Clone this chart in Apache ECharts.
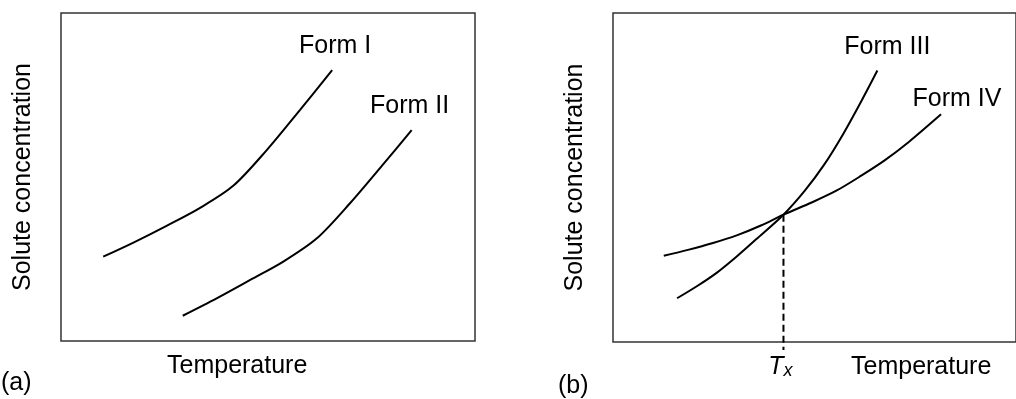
<!DOCTYPE html>
<html>
<head>
<meta charset="utf-8">
<script src="https://cdn.jsdelivr.net/npm/echarts@6/dist/echarts.min.js"></script>
<style>
  html, body { margin: 0; padding: 0; background: #fff; }
  #chart { width: 1016px; height: 399px; }
</style>
</head>
<body>
<div id="chart"></div>
<script>
// Solubility curves of polymorphs; temperature and concentration in relative units (0–100)
const formIT = [10.2, 17.5, 25.5, 33.6, 41.6, 49.7, 57.7, 65.5];
const formIC = [25.7, 30.0, 35.1, 40.6, 47.3, 58.2, 70.4, 82.6];
const formIIT = [29.4, 37.6, 45.7, 53.7, 61.8, 69.8, 77.9, 84.7];
const formIIC = [7.7, 13.0, 18.6, 24.2, 31.3, 42.0, 54.0, 64.3];
const formIIIT = [15.9, 21.0, 25.8, 30.7, 35.5, 42.3, 47.6, 52.4, 57.2, 62.1, 65.6];
const formIIIC = [13.3, 17.1, 21.1, 26.0, 31.2, 38.7, 46.0, 53.9, 63.4, 74.3, 82.5];
const formIVT = [12.6, 18.6, 24.6, 30.7, 36.7, 42.3, 49.3, 55.3, 61.4, 67.4, 73.4, 81.4];
const formIVC = [26.2, 28.0, 30.0, 32.4, 35.4, 38.7, 42.4, 45.9, 50.4, 55.2, 60.8, 69.2];
// transition temperature where Form III and Form IV curves cross
const transitionT = 42.3;
const transitionC = 38.7;
const dropBelowAxis = -2.4;

const FONT = '"Liberation Sans", Arial, Helvetica, sans-serif';
const FS = 25;

function curveData(ts, cs, name, labelOffset) {
  const last = ts.length - 1;
  return ts.map((t, i) => {
    if (i !== last) return [t, cs[i]];
    return {
      value: [t, cs[i]],
      label: {
        show: true, formatter: name, position: 'top',
        distance: labelOffset[1], offset: [labelOffset[0], 0],
        color: '#000', fontSize: FS, fontFamily: FONT
      }
    };
  });
}

function curve(name, ts, cs, gridIdx, labelOffset) {
  return {
    name, type: 'line', xAxisIndex: gridIdx, yAxisIndex: gridIdx,
    smooth: 0.3,
    symbol: 'circle', symbolSize: 0.1, showSymbol: true,
    itemStyle: { color: '#000' },
    lineStyle: { color: '#000', width: 2 },
    label: { show: false },
    data: curveData(ts, cs, name, labelOffset),
    silent: true, animation: false
  };
}

const plainAxis = {
  type: 'value', min: 0, max: 100,
  axisLine: { show: false }, axisTick: { show: false },
  axisLabel: { show: false }, splitLine: { show: false }
};

const yName = {
  name: 'Solute concentration', nameLocation: 'middle', nameGap: 25,
  nameTextStyle: { fontSize: FS, color: '#000', fontFamily: FONT }
};

const chart = echarts.init(document.getElementById('chart'));
chart.setOption({
  backgroundColor: '#fff',
  animation: false,
  grid: [
    { left: 61, top: 13, width: 414, height: 328, show: true, borderColor: '#333', borderWidth: 1.5, backgroundColor: 'transparent' },
    { left: 613, top: 13, width: 414, height: 329, show: true, borderColor: '#333', borderWidth: 1.5, backgroundColor: 'transparent' }
  ],
  xAxis: [
    Object.assign({ gridIndex: 0 }, plainAxis),
    Object.assign({ gridIndex: 1 }, plainAxis)
  ],
  yAxis: [
    Object.assign({ gridIndex: 0 }, plainAxis, yName),
    Object.assign({ gridIndex: 1 }, plainAxis, yName)
  ],
  graphic: [
    { type: 'text', left: 167, top: 354, style: { text: 'Temperature', font: FS + 'px ' + FONT, fill: '#000' } },
    { type: 'text', left: 851, top: 355, style: { text: 'Temperature', font: FS + 'px ' + FONT, fill: '#000' } },
    { type: 'text', left: 1, top: 371, style: { text: '(a)', font: FS + 'px ' + FONT, fill: '#000' } },
    { type: 'text', left: 558, top: 374, style: { text: '(b)', font: FS + 'px ' + FONT, fill: '#000' } }
  ],
  series: [
    curve('Form I', formIT, formIC, 0, [3, 11]),
    curve('Form II', formIIT, formIIC, 0, [-2, 11]),
    curve('Form III', formIIIT, formIIIC, 1, [10, 11]),
    curve('Form IV', formIVT, formIVC, 1, [16, 3]),
    {
      name: 'Tx', type: 'line', xAxisIndex: 1, yAxisIndex: 1,
      symbol: 'circle', symbolSize: 0.1, showSymbol: true,
      itemStyle: { color: '#000' },
      lineStyle: { color: '#000', width: 2, type: [7, 4] },
      clip: false, silent: true, animation: false,
      data: [
        [transitionT, transitionC],
        {
          value: [transitionT, dropBelowAxis],
          label: {
            show: true, position: 'bottom', distance: 4, offset: [-3, 0],
            formatter: '{t|T}{s|x}',
            rich: {
              t: { fontSize: FS, fontStyle: 'italic', fontFamily: FONT, color: '#000' },
              s: { fontSize: 18, fontStyle: 'italic', fontFamily: FONT, color: '#000', padding: [8, 0, 0, 0] }
            }
          }
        }
      ]
    }
  ]
});
</script>
</body>
</html>
